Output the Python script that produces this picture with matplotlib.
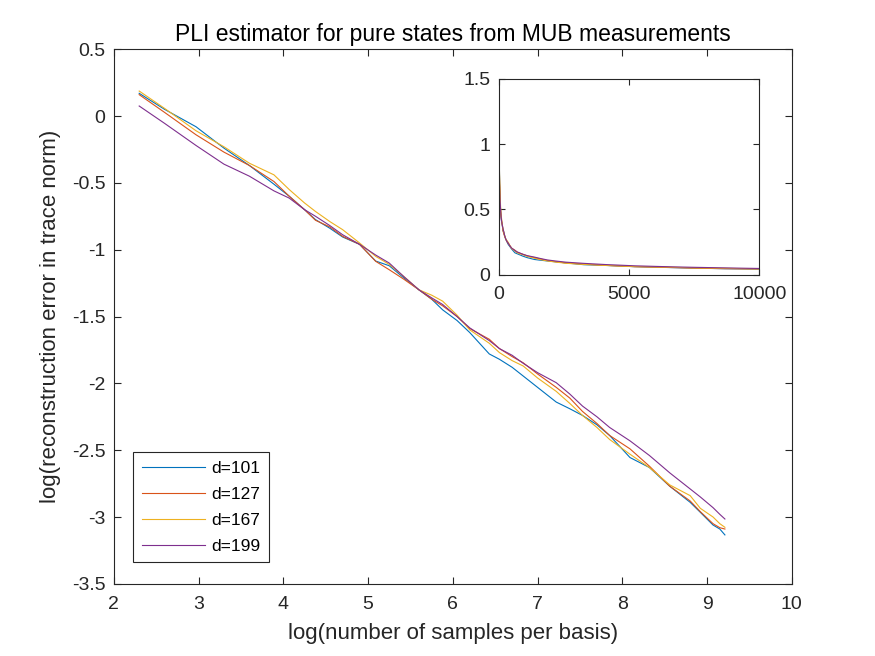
import matplotlib.pyplot as plt
import numpy as np

plt.rcParams['font.family'] = ['Liberation Sans', 'DejaVu Sans']
plt.rcParams['axes.unicode_minus'] = False

# log(number of samples per basis)
log_n = [2.30, 2.60, 2.97, 3.30, 3.60, 3.89, 4.07, 4.25, 4.38, 4.55, 4.70, 4.90,
         5.09, 5.25, 5.42, 5.60, 5.75, 5.88, 6.05, 6.20, 6.43, 6.55, 6.70, 6.83,
         7.00, 7.22, 7.38, 7.53, 7.70, 7.85, 8.09, 8.32, 8.56, 8.80, 8.92, 9.07,
         9.15, 9.21]

err_101 = [0.17, 0.05, -0.08, -0.24, -0.37, -0.51, -0.60, -0.70, -0.775, -0.84,
           -0.905, -0.96, -1.085, -1.12, -1.21, -1.30, -1.37, -1.45, -1.53, -1.62,
           -1.78, -1.82, -1.88, -1.945, -2.03, -2.14, -2.19, -2.24, -2.31, -2.39,
           -2.555, -2.63, -2.77, -2.89, -2.965, -3.06, -3.09, -3.134]
err_127 = [0.16, 0.027, -0.14, -0.27, -0.37, -0.49, -0.60, -0.70, -0.78, -0.83,
           -0.90, -0.96, -1.087, -1.15, -1.22, -1.30, -1.37, -1.42, -1.50, -1.59,
           -1.67, -1.74, -1.80, -1.846, -1.93, -2.03, -2.11, -2.21, -2.30, -2.39,
           -2.49, -2.62, -2.77, -2.88, -2.96, -3.05, -3.08, -3.09]
err_167 = [0.187, 0.057, -0.11, -0.23, -0.353, -0.44, -0.55, -0.65, -0.714, -0.79,
           -0.85, -0.95, -1.05, -1.11, -1.20, -1.30, -1.34, -1.385, -1.49, -1.60,
           -1.70, -1.77, -1.83, -1.87, -1.96, -2.06, -2.15, -2.24, -2.33, -2.42,
           -2.53, -2.63, -2.76, -2.84, -2.935, -3.00, -3.05, -3.077]
err_199 = [0.075, -0.055, -0.22, -0.36, -0.45, -0.56, -0.614, -0.70, -0.75, -0.82,
           -0.888, -0.96, -1.04, -1.10, -1.20, -1.30, -1.36, -1.41, -1.50, -1.585,
           -1.68, -1.74, -1.79, -1.85, -1.92, -1.995, -2.08, -2.17, -2.25, -2.33,
           -2.43, -2.54, -2.67, -2.79, -2.85, -2.93, -2.98, -3.015]

labels = ['d=101', 'd=127', 'd=167', 'd=199']
colors = ['#0072BD', '#D95319', '#EDB120', '#7E2F8E']
series = [err_101, err_127, err_167, err_199]

fig = plt.figure(figsize=(8.75, 6.56), dpi=100)
ax = fig.add_axes([0.13, 0.11, 0.775, 0.815])

for s, c, lab in zip(series, colors, labels):
    ax.plot(log_n, s, color=c, lw=0.8, label=lab)

ax.set_xlim(2, 10)
ax.set_ylim(-3.5, 0.5)
ax.set_xticks(range(2, 11))
ax.set_yticks(np.arange(-3.5, 0.51, 0.5))
ax.set_yticklabels(['-3.5', '-3', '-2.5', '-2', '-1.5', '-1', '-0.5', '0', '0.5'])
ax.tick_params(direction='in', top=True, right=True, labelsize=14,
               colors='#262626', length=5, pad=6)
ax.tick_params(axis='x', pad=9)
for sp in ax.spines.values():
    sp.set_color('#262626')
    sp.set_linewidth(0.8)
ax.set_title('PLI estimator for pure states from MUB measurements',
             fontsize=16.5, color='black', pad=6)
ax.set_xlabel('log(number of samples per basis)', fontsize=16, color='#262626',
              labelpad=7)
ax.set_ylabel('log(reconstruction error in trace norm)', fontsize=16,
              color='#262626', labelpad=8)

leg = ax.legend(loc='lower left', bbox_to_anchor=(0.029, 0.04), fontsize=12.5,
                fancybox=False, framealpha=1, edgecolor='#262626',
                handlelength=3.6, borderaxespad=0, borderpad=0.5,
                labelspacing=0.62, handletextpad=0.4)
leg.get_frame().set_linewidth(0.8)

# inset: same data on linear scales
ins = fig.add_axes([0.570, 0.581, 0.298, 0.299])
for s, c in zip(series, colors):
    ins.plot(np.exp(log_n), np.exp(s), color=c, lw=0.8)
ins.set_xlim(0, 10000)
ins.set_ylim(0, 1.5)
ins.set_xticks([0, 5000, 10000])
ins.set_yticks([0, 0.5, 1, 1.5])
ins.set_yticklabels(['0', '0.5', '1', '1.5'])
ins.tick_params(direction='in', top=True, right=True, labelsize=14,
                colors='#262626', length=4, pad=6)
ins.tick_params(axis='x', pad=8)
for sp in ins.spines.values():
    sp.set_color('#262626')
    sp.set_linewidth(0.8)

fig.savefig('out.png', dpi=100)
